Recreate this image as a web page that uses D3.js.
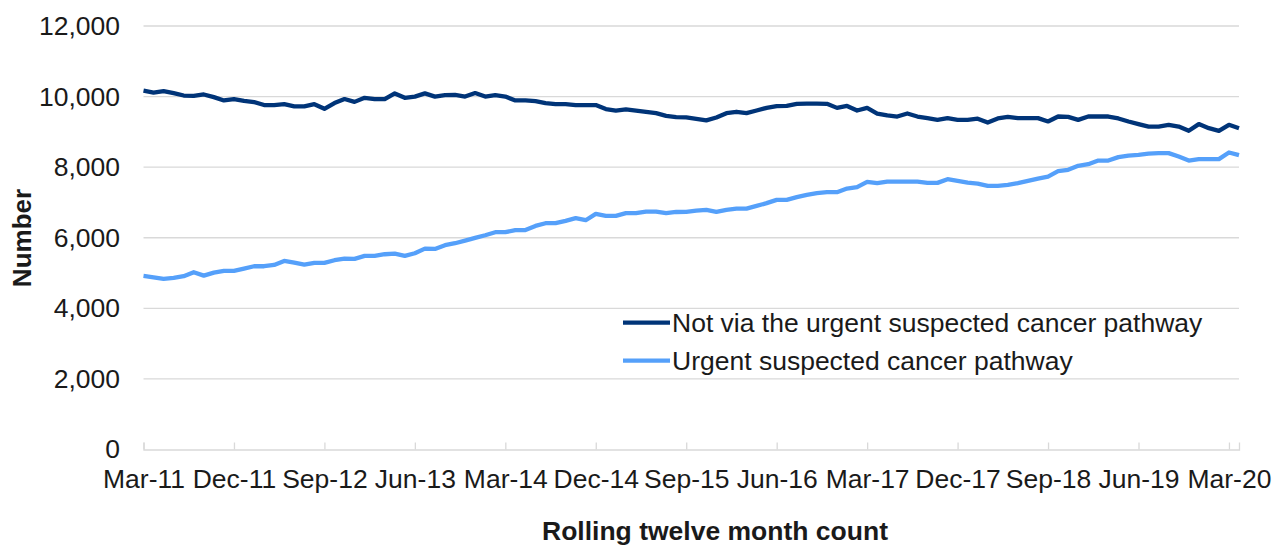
<!DOCTYPE html>
<html>
<head>
<meta charset="utf-8">
<style>
  body { margin: 0; background: #fff; }
  svg { font-family: 'Liberation Sans', Arial, sans-serif; }
  .grid line { stroke: #d9d9d9; stroke-width: 1.3; }
  .x .domain { stroke: #d9d9d9; stroke-width: 1.3; }
  .x .tick line { stroke: #d9d9d9; stroke-width: 1.3; }
  .tick text { font-size: 26.5px; fill: #1a1a1a; }
</style>
</head>
<body>
<svg width="1274" height="546"></svg>
<script src="https://d3js.org/d3.v7.min.js"></script>
<script>
// monthly rolling counts, Mar-11 .. Apr-20
let notUsc = [
  10170, 10115, 10155, 10100, 10030, 10020, 10060, 9985, 9890, 9930,
  9880, 9845, 9760, 9760, 9785, 9720, 9720, 9785, 9655, 9815,
  9930, 9850, 9965, 9930, 9930, 10090, 9965, 10000, 10090, 10000,
  10040, 10045, 10000, 10100, 10000, 10040, 10000, 9890, 9890, 9870,
  9815, 9785, 9785, 9760, 9760, 9760, 9645, 9605, 9635, 9605,
  9570, 9530, 9455, 9420, 9410, 9370, 9325, 9407, 9530, 9570,
  9530, 9605, 9680, 9730, 9735, 9795, 9800, 9800, 9795, 9680,
  9735, 9605, 9680, 9520, 9465, 9435, 9520, 9435, 9390, 9340,
  9390, 9340, 9340, 9375, 9265, 9380, 9425, 9390, 9390, 9390,
  9295, 9435, 9425, 9340, 9435, 9435, 9435, 9380, 9295, 9220,
  9150, 9150, 9200, 9150, 9030, 9220, 9105, 9030, 9200, 9105
];
let usc = [
  4918, 4880, 4834, 4862, 4910, 5023, 4927, 5012, 5060, 5060,
  5126, 5193, 5193, 5230, 5344, 5296, 5240, 5290, 5290, 5363,
  5410, 5400, 5486, 5486, 5533, 5550, 5486, 5562, 5693, 5684,
  5788, 5845, 5920, 5996, 6072, 6157, 6157, 6214, 6220, 6336,
  6412, 6412, 6478, 6554, 6497, 6676, 6620, 6620, 6696, 6700,
  6742, 6742, 6696, 6730, 6735, 6770, 6790, 6733, 6790, 6827,
  6827, 6903, 6980, 7073, 7073, 7150, 7215, 7263, 7291, 7291,
  7394, 7433, 7583, 7547, 7592, 7592, 7592, 7592, 7555, 7555,
  7660, 7612, 7560, 7536, 7470, 7470, 7498, 7547, 7612, 7678,
  7734, 7886, 7924, 8037, 8085, 8188, 8188, 8284, 8330, 8350,
  8386, 8397, 8397, 8300, 8188, 8227, 8227, 8227, 8415, 8340
];
let tickLabels = ["Mar-11","Dec-11","Sep-12","Jun-13","Mar-14","Dec-14","Sep-15",
                  "Jun-16","Mar-17","Dec-17","Sep-18","Jun-19","Mar-20"];
let yTicks = [0, 2000, 4000, 6000, 8000, 10000, 12000];
let seriesNames = ["Not via the urgent suspected cancer pathway", "Urgent suspected cancer pathway"];
let seriesColors = ["#003478", "#55a0fa"];

let svg = d3.select("svg");
let plotLeft = 143.5, plotRight = 1239, plotTop = 26, plotBottom = 449.5;

let x = d3.scaleLinear().domain([0, notUsc.length - 1]).range([plotLeft, plotRight]);
let y = d3.scaleLinear().domain([0, 12000]).range([plotBottom, plotTop]);

// gridlines
svg.append("g").attr("class", "grid")
  .selectAll("line").data(yTicks.slice(1)).join("line")
  .attr("x1", plotLeft).attr("x2", plotRight)
  .attr("y1", d => y(d)).attr("y2", d => y(d));

// y axis labels
let yAxis = d3.axisLeft(y).tickValues(yTicks).tickSize(0).tickPadding(0)
  .tickFormat(d3.format(","));
let yg = svg.append("g").attr("transform", "translate(120,0)").call(yAxis);
yg.select(".domain").remove();

// x axis, tick every 9 months, ticks point up into the plot
let xAxis = d3.axisBottom(x).tickValues(d3.range(0, 109, 9)).tickSize(-7).tickPadding(0)
  .tickFormat((d, i) => tickLabels[i]);
let xg = svg.append("g").attr("class", "x").attr("transform", `translate(0,${plotBottom})`).call(xAxis);
xg.selectAll(".tick text").attr("dy", "1.45em");

// lines
let line = d3.line().x((d, i) => x(i)).y(d => y(d)).curve(d3.curveLinear);
[notUsc, usc].forEach((s, k) => {
  svg.append("path").attr("d", line(s))
    .attr("fill", "none").attr("stroke", seriesColors[k])
    .attr("stroke-width", 4.3).attr("stroke-linejoin", "round");
});

// legend
seriesNames.forEach((name, k) => {
  let ly = 322.7 + k * 38;
  svg.append("line").attr("x1", 623).attr("x2", 670).attr("y1", ly).attr("y2", ly)
    .attr("stroke", seriesColors[k]).attr("stroke-width", 4.3);
  svg.append("text").attr("x", 672).attr("y", ly).attr("dy", "0.35em")
    .style("font-size", "26.5px").style("fill", "#1a1a1a").text(name);
});

// axis titles
svg.append("text")
  .attr("transform", "translate(31,238) rotate(-90)")
  .attr("text-anchor", "middle")
  .style("font-size", "26px").style("font-weight", "bold").style("fill", "#1a1a1a")
  .text("Number");

svg.append("text")
  .attr("x", 715).attr("y", 539.5)
  .attr("text-anchor", "middle")
  .style("font-size", "26.5px").style("font-weight", "bold").style("fill", "#1a1a1a")
  .text("Rolling twelve month count");
</script>
</body>
</html>
